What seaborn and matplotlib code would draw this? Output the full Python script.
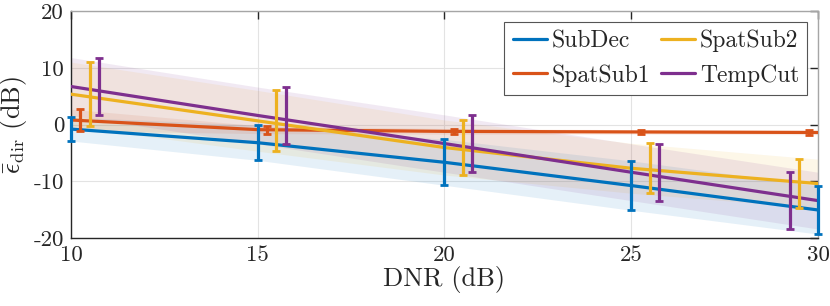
import numpy as np
import pandas as pd
import matplotlib
matplotlib.use("Agg")
import matplotlib.pyplot as plt
import seaborn as sns

# ---- data ----
dnr = [10, 15, 20, 25, 30]
methods = ["SubDec", "SpatSub1", "SpatSub2", "TempCut"]
subdec_mean = [-0.8, -3.2, -6.65, -10.75, -15.05]
subdec_std = [2.1, 3.1, 4.05, 4.35, 4.25]
spatsub1_mean = [0.8, -0.9, -1.2, -1.3, -1.4]
spatsub1_std = [1.9, 0.7, 0.5, 0.4, 0.4]
spatsub2_mean = [5.35, 0.65, -4.05, -7.7, -10.4]
spatsub2_std = [5.65, 5.35, 4.85, 4.4, 4.3]
tempcut_mean = [6.7, 1.6, -3.35, -8.4, -13.4]
tempcut_std = [5.1, 5.0, 5.05, 5.0, 5.0]

means = [subdec_mean, spatsub1_mean, spatsub2_mean, tempcut_mean]
stds = [subdec_std, spatsub1_std, spatsub2_std, tempcut_std]
colors = ["#0072BD", "#D95319", "#EDB120", "#7E2F8E"]

df = pd.DataFrame({
    "DNR": np.tile(dnr, len(methods)),
    "err": np.concatenate(means),
    "std": np.concatenate(stds),
    "method": np.repeat(methods, len(dnr)),
})

sns.set_theme(style="white")
plt.rcParams["font.family"] = ["cmr10", "DejaVu Serif"]
plt.rcParams["mathtext.fontset"] = "cm"
plt.rcParams["axes.formatter.use_mathtext"] = True

fig = plt.figure(figsize=(8.3, 3.06), dpi=100)
ax = fig.add_axes([0.0855, 0.222, 0.9, 0.742])

# shaded bands
for m, c in zip(methods, colors):
    d = df[df.method == m]
    ax.fill_between(d.DNR, d.err - d["std"], d.err + d["std"], color=c,
                    alpha=0.1, linewidth=0, zorder=1)

sns.lineplot(data=df, x="DNR", y="err", hue="method", hue_order=methods,
             palette=colors, linewidth=2.3, errorbar=None, ax=ax, zorder=3)

# error bars, slightly shifted per method
offsets = [0.0, 0.25, 0.5, 0.75]
for i, (m, c) in enumerate(zip(methods, colors)):
    d = df[df.method == m]
    xs = d.DNR.to_numpy(dtype=float)
    xs = np.where(xs + offsets[i] > 30, xs - offsets[i], xs + offsets[i])
    ax.errorbar(xs, d.err, yerr=d["std"], fmt="none", ecolor=c,
                elinewidth=2.3, capsize=2.6, capthick=2.0, zorder=4,
                clip_on=False)

ax.set_xlim(10, 30)
ax.set_ylim(-20, 20)
ax.set_xticks([10, 15, 20, 25, 30])
ax.set_xticklabels(["10", "15", "20", "25", "30"])
ax.set_yticks([-20, -10, 0, 10, 20])
ax.set_yticklabels(["-20", "-10", "0", "10", "20"])
ax.tick_params(axis="both", direction="in", length=5.5, width=1.0,
               labelsize=16.5, colors="#262626", top=True, right=True, pad=5)
ax.grid(True, color="#e3e3e3", linewidth=0.8)
ax.set_axisbelow(True)
for s in ["left", "bottom"]:
    ax.spines[s].set_color("#262626")
    ax.spines[s].set_linewidth(1.0)
for s in ["top", "right"]:
    ax.spines[s].set_color("#a6a6a6")
    ax.spines[s].set_linewidth(1.0)

ax.set_xlabel("DNR (dB)", fontsize=19, color="#262626", labelpad=1)
ax.set_ylabel(r"$\bar{\epsilon}_{\mathrm{dir}}$ (dB)", fontsize=19,
              color="#262626", labelpad=3)

leg = ax.legend(title=None, ncol=2, loc="upper right", fontsize=17,
                frameon=True, fancybox=False, framealpha=1,
                edgecolor="#555555", handlelength=1.45, handletextpad=0.2,
                columnspacing=0.45, borderpad=0.35, labelspacing=0.5,
                borderaxespad=0.45)
leg.get_frame().set_linewidth(0.8)
for t in leg.get_texts():
    t.set_color("#262626")
for h in leg.get_lines():
    h.set_linewidth(2.3)

fig.savefig("out.png", dpi=100)
